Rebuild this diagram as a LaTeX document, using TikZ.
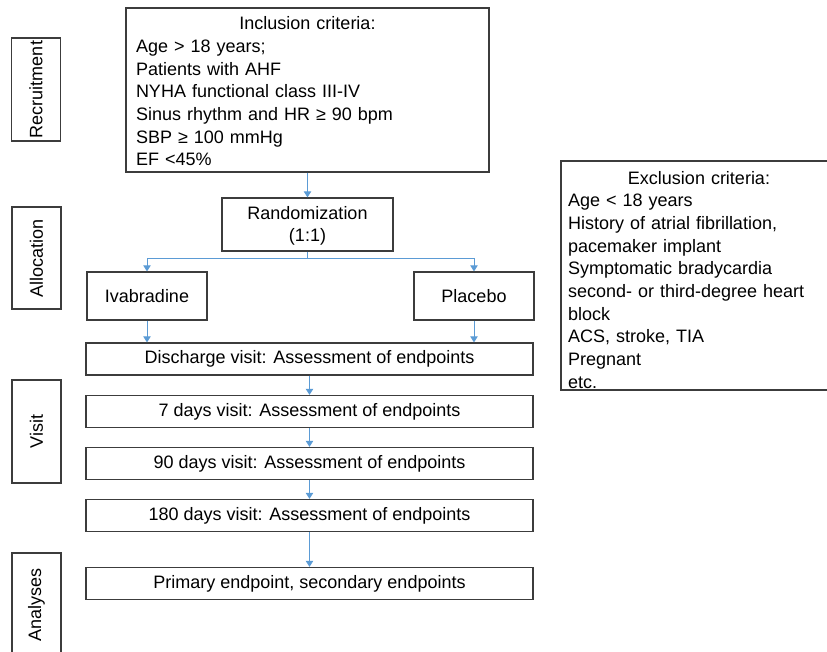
\documentclass[tikz,border=0pt]{standalone}
\usepackage{fontspec}
\setmainfont{Liberation Sans}
\usepackage{xcolor}
\usetikzlibrary{arrows.meta, calc}
\definecolor{flowBlue}{RGB}{91,155,213}
\definecolor{boxGray}{RGB}{60,60,60}
\tikzset{
  box/.style = {draw=boxGray, line width=0.9pt, inner sep=0pt, align=center,
    font=\fontsize{13.5}{17}\selectfont},
  stagebox/.style = {box, rotate=90, minimum height=36.75pt},
  visitbox/.style = {box, minimum width=335.25pt, minimum height=24pt},
  armbox/.style = {box, minimum width=90pt, minimum height=36pt},
  link/.style = {flowBlue, line width=0.75pt},
  flow/.style = {link, -{Triangle[width=5.5pt, length=4.5pt]}}
}

\begin{document}
\begin{tikzpicture}[x=0.75pt, y=-0.75pt]
  \useasboundingbox (0,0) rectangle (827,652);
  \clip (0,0) rectangle (827,652);

  % stages on the left
  \node[stagebox, minimum width=77.25pt] (recruit) at (36,89.5) {Recruitment};
  \node[stagebox, minimum width=76.5pt] (alloc) at (36.5,258) {Allocation};
  \node[stagebox, minimum width=77.25pt] (visit) at (36.5,431.5) {Visit};
  \node[stagebox, minimum width=78pt] (analys) at (36.5,605) {Analyses};

  % criteria
  \node[box, align=left, text width=257.25pt, inner xsep=7.5pt, minimum height=123pt] (incl) at (307.5,90)
    {\noindent\hbox to\hsize{\hss\rule{0pt}{12pt}Inclusion criteria:\hss}\\
     Age > 18 years;\\
     Patients with AHF\\
     NYHA functional class III-IV\\
     Sinus rhythm and HR ≥ 90 bpm\\
     SBP ≥ 100 mmHg\\
     EF <45\%};
  \node[box, align=left, text width=196.5pt, inner xsep=5.25pt, minimum height=171.75pt] (excl) at (699,275.5)
    {\noindent\hbox to\hsize{\hss\rule{0pt}{16pt}Exclusion criteria:\hss}\\
     Age < 18 years\\
     History of atrial fibrillation,\\
     pacemaker implant\\
     Symptomatic bradycardia\\
     second- or third-degree heart\\
     block\\
     ACS, stroke, TIA\\
     Pregnant\\
     etc.};

  % randomization and arms
  \node[box, minimum width=128.25pt, minimum height=39.75pt] (rand) at (307.5,224.5) {\rule{0pt}{12pt}Randomization\\(1:1)};
  \node[armbox] (ivab) at (147,296) {Ivabradine};
  \node[armbox] (plac) at (474,296) {Placebo};

  % visits
  \node[visitbox] (disch) at (309.5,359) {Discharge visit: Assessment of endpoints};
  \node[visitbox] (day7) at (309.5,411.5) {7 days visit: Assessment of endpoints};
  \node[visitbox] (day90) at (309.5,463.5) {90 days visit: Assessment of endpoints};
  \node[visitbox] (day180) at (309.5,515.5) {180 days visit: Assessment of endpoints};
  \node[visitbox] (prim) at (309.5,583.5) {Primary endpoint, secondary endpoints};

  % connectors
  \coordinate (split) at (307.5,258);
  \draw[flow] (incl.south) -- (rand.north);
  \draw[link] (rand.south) -- (split);
  \draw[flow] (split) -| (ivab.north);
  \draw[flow] (split) -| (plac.north);
  \draw[flow] (ivab.south) -- (ivab.south |- disch.north);
  \draw[flow] (plac.south) -- (plac.south |- disch.north);
  \draw[flow] (disch.south) -- (day7.north);
  \draw[flow] (day7.south) -- (day90.north);
  \draw[flow] (day90.south) -- (day180.north);
  \draw[flow] (day180.south) -- (prim.north);
\end{tikzpicture}
\end{document}
